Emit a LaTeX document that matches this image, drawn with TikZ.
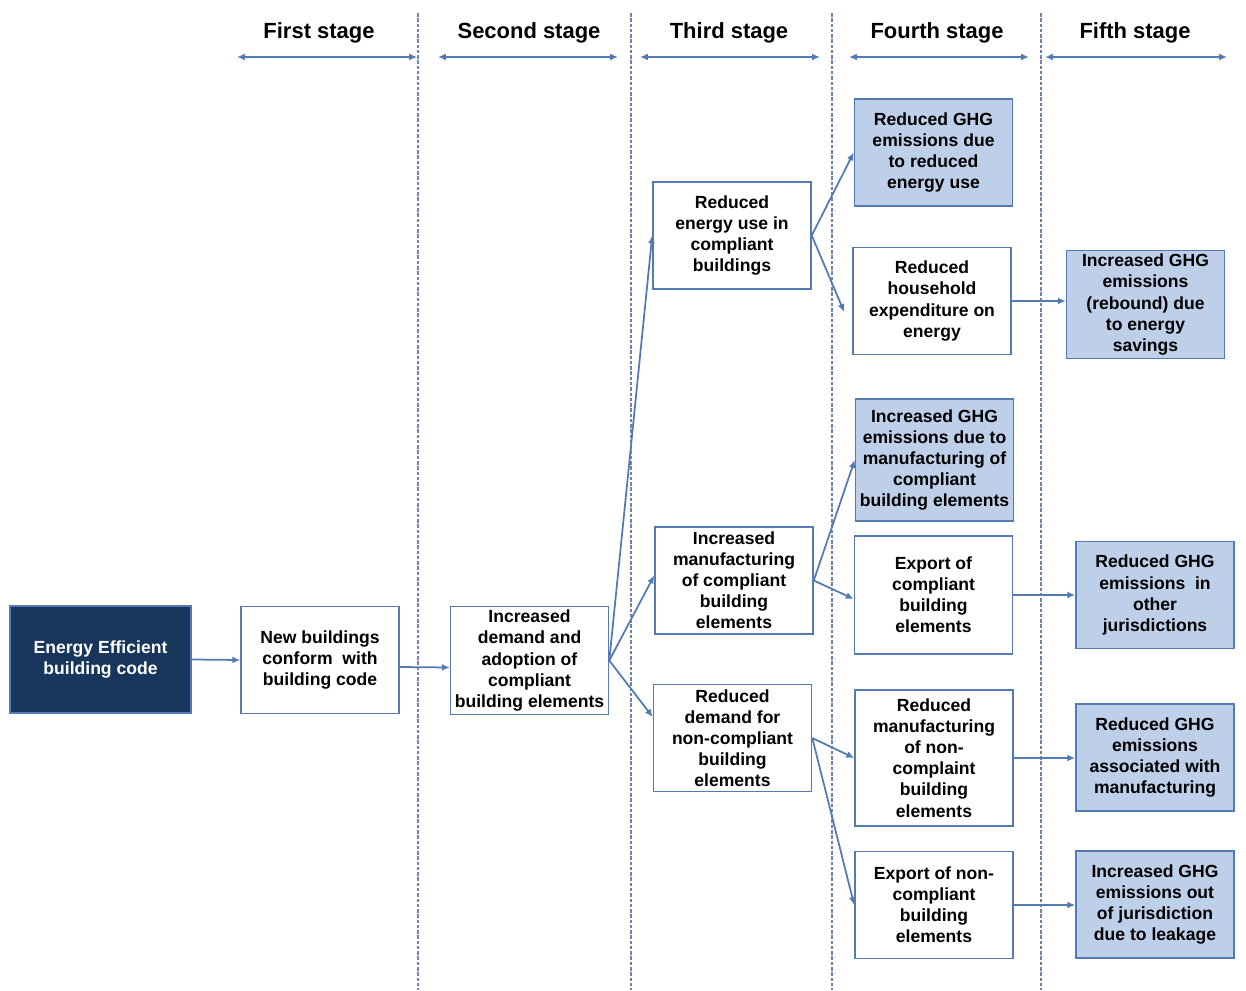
\documentclass[tikz,border=0pt]{standalone}
\usepackage{fontspec}
\setmainfont{Liberation Sans}
\usepackage{xcolor}
\usepackage{tikz}
\usetikzlibrary{calc}
\usetikzlibrary{arrows.meta}

\definecolor{linec}{RGB}{84,122,180}
\definecolor{sepc}{RGB}{112,130,168}
\definecolor{ghgfill}{RGB}{190,208,233}
\definecolor{codeblue}{RGB}{24,54,92}

\tikzset{
    box/.style={draw=linec, line width=0.9pt, fill=white, align=center, inner sep=2pt,
        font=\fontsize{10}{12}\selectfont\bfseries, minimum width=3.16cm, minimum height=2.14cm},
    ghg/.style={box, fill=ghgfill},
    conn/.style={draw=linec, line width=1pt, -{Latex[length=4.5pt,width=4pt]}},
    span/.style={draw=linec, line width=1pt, {Latex[length=4.5pt,width=4pt]}-{Latex[length=4.5pt,width=4pt]}},
    sep/.style={draw=sepc, line width=0.6pt, dash pattern=on 2pt off 1pt},
    stagetitle/.style={font=\fontsize{12.5}{15}\selectfont\bfseries, inner sep=0pt}
}

\begin{document}
\begin{tikzpicture}[x=0.02cm, y=-0.02cm]
        \useasboundingbox (0,0) rectangle (1246,990);

        %STAGES
        \foreach \xs in {418,631,832,1041}
            \draw[sep] (\xs,13) -- (\xs,990);
        \foreach \n/\xc/\xa/\xb/\lab in {1/319/237/417/First stage, 2/529/438/618/Second stage, 3/729/640/820/Third stage, 4/937/849/1029/Fourth stage, 5/1135/1045/1227/Fifth stage}{
            \node[stagetitle] (t\n) at (\xc,33) {\lab};
            \coordinate (t\n a) at (\xa,57);
            \coordinate (t\n b) at (\xb,57);
            \draw[span] (t\n a) -- (t\n b);
        }

        %BOXES
        \node[box, fill=codeblue, text=white, minimum width=3.62cm] (code) at (100.5,659.5) {Energy Efficient\\building code};
        \node[box] (nb) at (320,660) {New buildings\\conform\ \ with\\building code};
        \node[box] (dem) at (529.5,660.5) {Increased\\demand and\\adoption of\\compliant\\building elements};

        \node[box] (red) at (732,235.5) {Reduced\\energy use in\\compliant\\buildings};
        \node[box] (incm) at (734,580.5) {Increased\\manufacturing\\of compliant\\building\\elements};
        \node[box] (rdn) at (732.5,738) {Reduced\\demand for\\non-compliant\\building\\elements};

        \node[ghg] (f1) at (933.5,152.5) {Reduced GHG\\emissions due\\to reduced\\energy use};
        \node[box] (f2) at (932,301) {Reduced\\household\\expenditure on\\energy};
        \node[ghg, minimum height=2.44cm] (f3) at (934.5,460) {Increased GHG\\emissions due to\\manufacturing of\\compliant\\building elements};
        \node[box, minimum height=2.36cm] (f4) at (933.5,595) {Export of\\compliant\\building\\elements};
        \node[box, minimum height=2.72cm] (f5) at (934,758) {Reduced\\manufacturing\\of non-\\complaint\\building\\elements};
        \node[box] (f6) at (934,905) {Export of non-\\compliant\\building\\elements};

        \node[ghg] (g1) at (1145.5,304.5) {Increased GHG\\emissions\\(rebound) due\\to energy\\savings};
        \node[ghg] (g2) at (1155,595) {Reduced GHG\\emissions\ \ in\\other\\jurisdictions};
        \node[ghg] (g3) at (1155,757.5) {Reduced GHG\\emissions\\associated with\\manufacturing};
        \node[ghg] (g4) at (1155,904.5) {Increased GHG\\emissions out\\of jurisdiction\\due to leakage};

        %ARROWS
        \draw[conn] (code.east) -- (nb.west);
        \draw[conn] ([yshift=-0.14cm]nb.east) -- ([yshift=-0.14cm]dem.west);

        \draw[conn] (dem.east) -- (red.west);
        \draw[conn] (dem.east) -- ([yshift=0.1cm]incm.west);
        \draw[conn] (dem.east) -- ([yshift=0.42cm]rdn.west);

        \draw[conn] (red.east) -- (f1.west);
        \draw[conn] (red.east) -- ([xshift=-0.16cm, yshift=-0.22cm]f2.west);
        \draw[conn] (incm.east) -- (f3.west);
        \draw[conn] (incm.east) -- ([yshift=-0.08cm]f4.west);
        \draw[conn] (rdn.east) -- (f5.west);
        \draw[conn] (rdn.east) -- (f6.west);

        \draw[conn] (f2.east) -- (f2.east -| g1.west);
        \draw[conn] (f4.east) -- (g2.west);
        \draw[conn] (f5.east) -- (f5.east -| g3.west);
        \draw[conn] (f6.east) -- (f6.east -| g4.west);
    \end{tikzpicture}
\end{document}
